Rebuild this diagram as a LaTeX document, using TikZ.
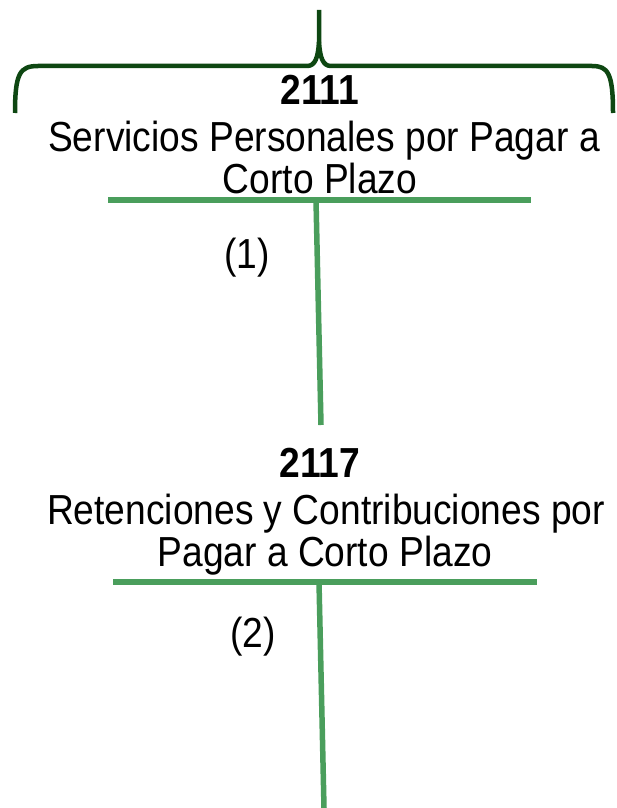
\documentclass[tikz,border=0pt]{standalone}
\usepackage{fontspec}
\setmainfont[FakeStretch=0.885]{Liberation Sans}
\definecolor{bracegreen}{HTML}{0E4712}
\definecolor{tgreen}{HTML}{4A9E5C}
\begin{document}
\begin{tikzpicture}[x=1pt,y=-1pt,
  lbl/.style={inner sep=0pt,anchor=base,font=\fontsize{42}{48}\selectfont},
  num/.style={lbl,font=\fontsize{42}{48}\selectfont\bfseries},
  tline/.style={draw=tgreen,line width=5.5pt},
  bracestyle/.style={draw=bracegreen,line width=4.5pt,line join=round}]
\useasboundingbox (0,0) rectangle (616,808);
% brace
\coordinate (bl) at (15,113);
\coordinate (br) at (613,113);
\coordinate (btop) at (319,10);
\draw[bracestyle] (bl) .. controls (15,73) and (20,66) .. (38,66) -- (307,66)
  .. controls (315,66) and (318,58) .. (319,42) -- (btop);
\draw[bracestyle] (319,42) .. controls (320,58) and (323,66) .. (331,66) -- (592,66)
  .. controls (608,66) and (613,73) .. (br);
% account 2111
\node[num] (n1) at (320,104) {2111};
\node[lbl] (t1a) at (324,151) {Servicios Personales por Pagar a};
\node[lbl] (t1b) at (320,193) {Corto Plazo};
\coordinate (h1l) at (108,200);
\coordinate (h1r) at (531,200);
\coordinate (v1t) at (316,200);
\coordinate (v1b) at (321,425);
\draw[tline] (h1l) -- (h1r);
\draw[tline] (v1t) -- (v1b);
\node[lbl,anchor=center] (e1) at (247,258) {(1)};
% account 2117
\node[num] (n2) at (320,477) {2117};
\node[lbl] (t2a) at (326,524) {Retenciones y Contribuciones por};
\node[lbl] (t2b) at (325,566) {Pagar a Corto Plazo};
\coordinate (h2l) at (113,582);
\coordinate (h2r) at (537,582);
\coordinate (v2t) at (319,582);
\coordinate (v2b) at (324,808);
\draw[tline] (h2l) -- (h2r);
\draw[tline] (v2t) -- (v2b);
\node[lbl,anchor=center] (e2) at (253,637) {(2)};
\end{tikzpicture}
\end{document}
